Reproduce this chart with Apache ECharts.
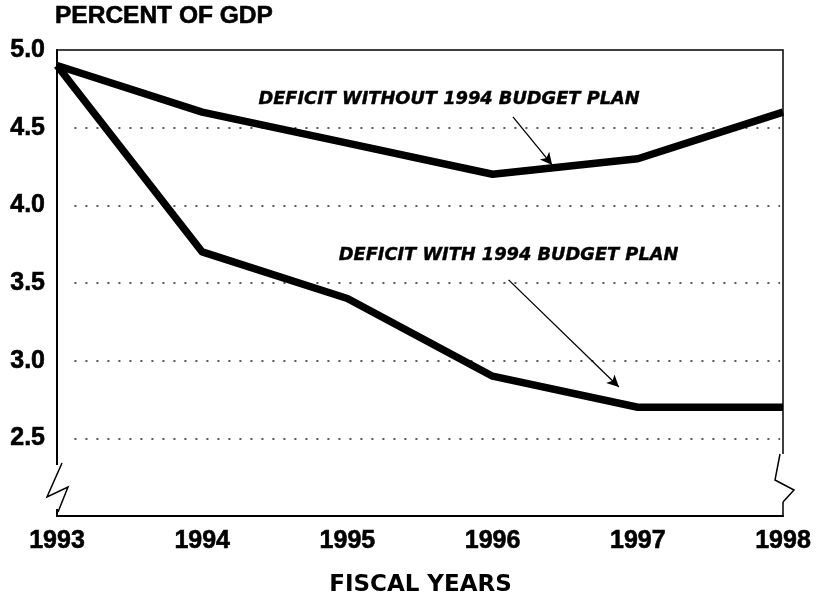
<!DOCTYPE html>
<html>
<head>
<meta charset="utf-8">
<script src="https://cdn.jsdelivr.net/npm/echarts@6/dist/echarts.min.js"></script>
<style>html,body{margin:0;padding:0;background:#fff}#c{width:824px;height:602px}</style>
</head>
<body>
<div id="c"></div>
<script>
const years = [1993, 1994, 1995, 1996, 1997, 1998];
const withoutPlan = [4.9, 4.6, 4.4, 4.2, 4.3, 4.6];
const withPlan = [4.9, 3.7, 3.4, 2.9, 2.7, 2.7];
const yTicks = [2.5, 3.0, 3.5, 4.0, 4.5, 5.0];
const labelWithout = 'DEFICIT WITHOUT 1994 BUDGET PLAN';
const labelWith = 'DEFICIT WITH 1994 BUDGET PLAN';
// annotation arrows in data space [x, y]
const arrowWithout = [[1996.14, 4.57], [1996.41, 4.26]];
const arrowWith = [[1996.11, 3.52], [1996.87, 2.83]];
// annotation label anchors (centre) in data space
const anchorWithout = [1995.70, 4.684];
const anchorWith = [1996.11, 3.677];

const FONT = '"DejaVu Sans", sans-serif';
const FONT2 = '"Liberation Sans", Arial, sans-serif';
const chart = echarts.init(document.getElementById('c'));

function pairs(xs, ys) { return xs.map((x, i) => [x, ys[i]]); }

const tickLabel = { color: '#000', fontFamily: FONT2, fontWeight: 'bold', fontSize: 25, textBorderColor: '#000', textBorderWidth: 0.6 };

chart.setOption({
  animation: false,
  backgroundColor: '#fff',
  grid: { left: 57, right: 41, top: 50, bottom: 86, show: true, borderColor: '#000', borderWidth: 1.5, backgroundColor: 'transparent' },
  xAxis: {
    type: 'value', min: 1993, max: 1998, interval: 1,
    axisLine: { show: true, lineStyle: { color: '#000', width: 2 } },
    axisTick: { show: false },
    splitLine: { show: false },
    axisLabel: Object.assign({ margin: 13, formatter: v => String(v) }, tickLabel)
  },
  yAxis: {
    type: 'value', min: 2.0, max: 5.0, interval: 0.5,
    axisLine: { show: true, lineStyle: { color: '#000', width: 2 } },
    axisTick: { show: false },
    splitLine: { show: false },
    axisLabel: Object.assign({ margin: 12,
      formatter: v => (yTicks.some(t => Math.abs(t - v) < 1e-9) ? v.toFixed(1) : '') }, tickLabel)
  },
  series: [
    {
      type: 'line', data: [], silent: true, symbol: 'none', z: 1,
      markLine: {
        silent: true, symbol: ['none', 'none'], label: { show: false },
        lineStyle: { color: '#222', width: 1.5, type: [2, 9] },
        data: yTicks.slice(0, 5).map(v => [{ coord: [1993.12, v] }, { coord: [1997.98, v] }])
      }
    },
    {
      name: 'without', type: 'line', data: pairs(years, withoutPlan), symbol: 'none',
      lineStyle: { color: '#000', width: 7.5, join: 'round' }, z: 5,
      markLine: {
        silent: true, symbol: ['none', 'arrow'], symbolSize: [9, 12], label: { show: false },
        lineStyle: { color: '#000', width: 1.3, type: 'solid' },
        data: [[{ coord: arrowWithout[0] }, { coord: arrowWithout[1] }]]
      }
    },
    {
      name: 'with', type: 'line', data: pairs(years, withPlan), symbol: 'none',
      lineStyle: { color: '#000', width: 7.5, join: 'round' }, z: 5,
      markLine: {
        silent: true, symbol: ['none', 'arrow'], symbolSize: [9, 12], label: { show: false },
        lineStyle: { color: '#000', width: 1.3, type: 'solid' },
        data: [[{ coord: arrowWith[0] }, { coord: arrowWith[1] }]]
      }
    }
  ]
});

const px = p => chart.convertToPixel({ gridIndex: 0 }, p);
const pA = px(anchorWithout), pB = px(anchorWith);
const bl = px([1993, 2.0]), br = px([1998, 2.0]);
chart.setOption({
  graphic: [
    { type: 'text', x: 55, y: 16, style: { text: 'PERCENT OF GDP', font: 'bold 24.5px ' + FONT2, fill: '#000', stroke: '#000', lineWidth: 0.6, verticalAlign: 'middle' } },
    { type: 'text', x: 420.5, y: 585, style: { text: 'FISCAL YEARS', font: 'bold 23px ' + FONT, fill: '#000', align: 'center', verticalAlign: 'middle' } },
    { type: 'text', x: pA[0], y: pA[1], style: { text: labelWithout, font: 'italic bold 17.8px ' + FONT, fill: '#000', stroke: '#000', lineWidth: 0.4, align: 'center', verticalAlign: 'middle' } },
    { type: 'text', x: pB[0], y: pB[1], style: { text: labelWith, font: 'italic bold 17.8px ' + FONT, fill: '#000', stroke: '#000', lineWidth: 0.4, align: 'center', verticalAlign: 'middle' } },
    { type: 'rect', shape: { x: bl[0] - 3, y: bl[1] - 51, width: 6, height: 44 }, style: { fill: '#fff' }, z: 100 },
    { type: 'polyline', shape: { points: [[bl[0] + 5, bl[1] - 53], [bl[0] - 10, bl[1] - 19], [bl[0] + 11, bl[1] - 29], [bl[0] + 1, bl[1] - 4]] }, style: { stroke: '#000', lineWidth: 1.5, fill: null }, z: 101 },
    { type: 'rect', shape: { x: br[0] - 3, y: br[1] - 62, width: 6, height: 48 }, style: { fill: '#fff' }, z: 100 },
    { type: 'polyline', shape: { points: [[br[0] - 3, br[1] - 62], [br[0] - 8, br[1] - 36], [br[0] + 11, br[1] - 26], [br[0], br[1] - 14]] }, style: { stroke: '#000', lineWidth: 1.5, fill: null }, z: 101 }
  ]
});
</script>
</body>
</html>
